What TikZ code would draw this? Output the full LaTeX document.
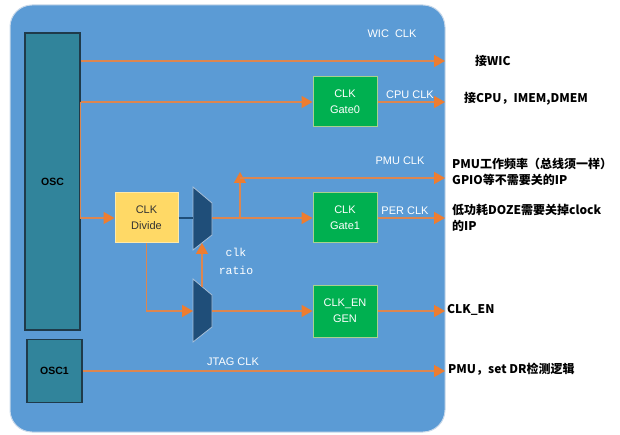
\documentclass[tikz,border=0pt]{standalone}
\usepackage{fontspec}
\setmainfont{Liberation Sans}
\newfontfamily\cjk{Noto Sans CJK SC}
\newfontfamily\monof{Liberation Mono}
\usetikzlibrary{arrows.meta}
\definecolor{panel}{HTML}{5B9BD5}
\definecolor{paneledge}{HTML}{C9D9EA}
\definecolor{oscfill}{HTML}{31849B}
\definecolor{oscedge}{HTML}{1F3A4A}
\definecolor{gatefill}{HTML}{00B050}
\definecolor{gateedge}{HTML}{A9D18E}
\definecolor{divfill}{HTML}{FFD966}
\definecolor{divedge}{HTML}{FFE9A8}
\definecolor{muxfill}{HTML}{1F4E79}
\definecolor{muxedge}{HTML}{A6BFD8}
\definecolor{orline}{HTML}{DC8650}
\definecolor{ortip}{HTML}{ED7D31}
\definecolor{darkline}{HTML}{1F4E79}
\begin{document}
\begin{tikzpicture}[x=1pt,y=-1pt,
  wire/.style={draw=orline,line width=1.5pt},
  arr/.style={wire,-{Triangle[length=11pt,width=12pt,color=ortip]}},
  lbl/.style={text=white,font=\fontsize{11}{12}\selectfont,inner sep=0pt},
  rtxt/.style={anchor=west,inner sep=0pt,font=\cjk\bfseries\fontsize{12}{13}\selectfont},
  oscbox/.style={draw=oscedge,line width=1.2pt,fill=oscfill,minimum width=55pt,inner sep=0pt,font=\bfseries\fontsize{10.5}{12}\selectfont},
  gatebox/.style={draw=gateedge,line width=1pt,fill=gatefill,minimum width=64pt,minimum height=50pt,inner sep=0pt,align=center,text=white,font=\fontsize{11}{16}\selectfont},
  divbox/.style={draw=divedge,line width=1pt,fill=divfill,minimum width=63pt,minimum height=50pt,inner sep=0pt,align=center,text=black!80,font=\fontsize{11}{16}\selectfont},
  muxshape/.style={draw=muxedge,line width=0.8pt,fill=muxfill}
]
\useasboundingbox (0,0) rectangle (620,435);
% panel
\draw[paneledge,line width=1pt,fill=panel,rounded corners=22pt] (10,5) rectangle (445,432);
% blocks
\node[oscbox,minimum height=297pt] (osc) at (52.5,181.5) {OSC};
\node[oscbox,minimum height=63pt] (osc1) at (54.5,371) {OSC1};
\node[gatebox] (gate0) at (345,102) {CLK\\Gate0};
\node[gatebox] (gate1) at (345,218) {CLK\\Gate1};
\node[gatebox,minimum height=52pt] (engen) at (345,311) {CLK\_EN\\GEN};
\node[divbox] (divide) at (146.5,218) {CLK\\Divide};
% muxes
\draw[muxshape] (193,187) -- (212,203) -- (212,235) -- (193,250) -- cycle;
\draw[muxshape] (193,279) -- (212,295) -- (212,327) -- (193,342) -- cycle;
\coordinate (m1w) at (193,218);
\coordinate (m1e) at (212,218);
\coordinate (m1s) at (202,243);
\coordinate (m2w) at (193,311);
\coordinate (m2e) at (212,311);
\coordinate (m2n) at (202,287);
% edge coordinates
\coordinate (wicend) at (445,61);
\coordinate (br) at (240,218);
\coordinate (pmuc) at (240,178);
\coordinate (pmuend) at (445,178);
\coordinate (rx) at (445,0);
% connectors
\draw[arr] (osc.east |- wicend) -- (wicend);
\draw[arr] (osc.east |- gate0) -- (gate0.west);
\draw[arr] (osc.east |- gate0) -- (osc.east |- divide) -- (divide.west);
\draw[darkline,line width=2pt] (divide.east) -- (m1w);
\draw[arr] (m1e) -- (gate1.west);
\draw[arr,shorten >=-6pt] (br) -- (pmuc);
\draw[arr] (pmuc) -- (pmuend);
\draw[arr] (gate0.east) -- (gate0.east -| rx);
\draw[arr] (gate1.east) -- (gate1.east -| rx);
\draw[arr] (divide.south) |- (m2w);
\draw[arr] (m2n) -- (m1s);
\draw[arr] (m2e) -- (engen.west);
\draw[arr] (engen.east) -- (engen.east -| rx);
\draw[arr] (osc1.east) -- (osc1.east -| rx);
% labels in panel
\node[lbl] (lwic) at (392,34) {WIC\ \ CLK};
\node[lbl] (lcpu) at (410,94.5) {CPU CLK};
\node[lbl] (lpmu) at (400,161) {PMU CLK};
\node[lbl] (lper) at (405,211) {PER CLK};
\node[lbl] (ljtag) at (233,362) {JTAG CLK};
\node[lbl,font=\monof\fontsize{11.5}{18}\selectfont,align=center] (lratio) at (236,261) {clk\\ratio};
% right texts
\node[rtxt] (t1) at (475,61) {接WIC};
\node[rtxt] (t2) at (464,99) {接CPU，IMEM,DMEM};
\node[rtxt] (t3) at (452,164) {PMU工作频率（总线须一样）};
\node[rtxt] (t4) at (452,180) {GPIO等不需要关的IP};
\node[rtxt] (t5) at (452,210) {低功耗DOZE需要关掉clock};
\node[rtxt] (t6) at (452,226) {的IP};
\node[rtxt] (t7) at (447,310) {CLK\_EN};
\node[rtxt] (t8) at (448,369) {PMU，set DR检测逻辑};
\end{tikzpicture}
\end{document}
